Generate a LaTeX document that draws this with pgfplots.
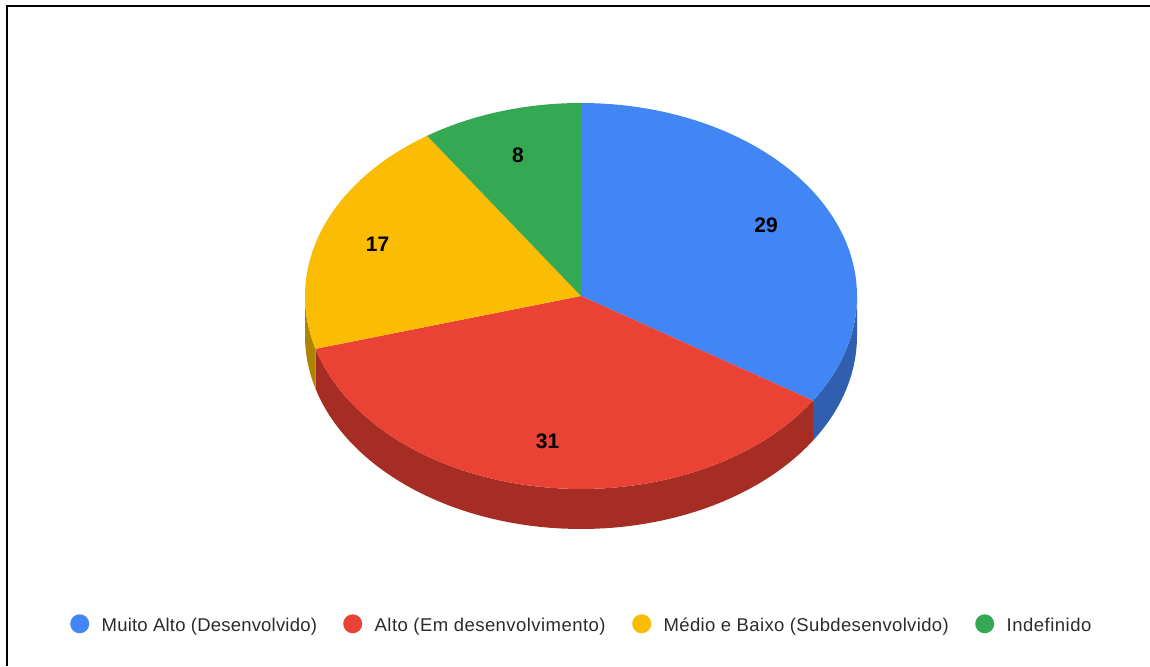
\documentclass[border=0pt]{standalone}
\usepackage{fontspec}
\setmainfont{Liberation Sans}
\usepackage{pgfplots}
\pgfplotsset{compat=1.18}

\definecolor{topblue}{HTML}{4285F4}
\definecolor{topred}{HTML}{EA4335}
\definecolor{topyellow}{HTML}{FBBC04}
\definecolor{topgreen}{HTML}{34A853}
\definecolor{sideblue}{HTML}{2F5FAE}
\definecolor{sidered}{HTML}{A52D23}
\definecolor{sideyellow}{HTML}{B08403}
\definecolor{legendtext}{HTML}{2B2B2B}

% Slice values
\def\vA{29}\def\vB{31}\def\vC{17}\def\vD{8}

% Geometry of the tilted disc, in axis units
\def\cx{581}\def\cy{370}\def\rx{276}\def\ry{193}\def\depth{40}

% Appends an elliptical arc to \ptlist; #1 and #2 are degrees clockwise from
% the top of the disc, #3 is how far below the top face the arc lies
\newcommand{\addarc}[3]{%
  \foreach \i in {0,...,60}{%
    \pgfmathsetmacro\ang{90-(#1+(#2-#1)*\i/60)}%
    \pgfmathsetmacro\px{\cx+\rx*cos(\ang)}%
    \pgfmathsetmacro\py{\cy+\ry*sin(\ang)-#3}%
    \xdef\ptlist{\ptlist (\px,\py)}%
  }}

% Top face of a slice
\newcommand{\topslice}[3]{%
  \xdef\ptlist{(\cx,\cy)}%
  \addarc{#1}{#2}{0}%
  \edef\tmp{\noexpand\addplot[fill=#3,draw=none,forget plot] coordinates {\ptlist};}%
  \tmp}

% Rim below a slice
\newcommand{\sideslice}[3]{%
  \xdef\ptlist{}%
  \addarc{#1}{#2}{0}%
  \addarc{#2}{#1}{\depth}%
  \edef\tmp{\noexpand\addplot[fill=#3,draw=none,forget plot] coordinates {\ptlist};}%
  \tmp}

% Legend text with a set width and tracking
\newcommand{\entry}[3]{\makebox[#1pt][l]{\addfontfeature{LetterSpace=#2}#3}}

\begin{document}
\begin{tikzpicture}
\pgfmathsetmacro\total{\vA+\vB+\vC+\vD}
\pgfmathsetmacro\aA{\vA/\total*360}
\pgfmathsetmacro\aB{(\vA+\vB)/\total*360}
\pgfmathsetmacro\aC{(\vA+\vB+\vC)/\total*360}
\begin{axis}[
  scale only axis, width=1150pt, height=666pt,
  xmin=0, xmax=1150, ymin=0, ymax=666,
  axis line style={draw=none}, ticks=none,
  legend columns=4,
  legend cell align=left,
  legend image code/.code={\fill[#1,draw=none] (0pt,0.36em-2pt) circle (9.5pt);},
  legend style={
    at={(axis cs:70.2,42.2)}, anchor=west, draw=none, fill=none,
    inner sep=0pt, outer sep=0pt,
    font=\fontsize{18.5}{20}\selectfont\color{legendtext},
    nodes={inner sep=0pt},
    /tikz/every odd column/.style={column sep=12.5pt},
    /tikz/every even column/.style={column sep=25.5pt},
  },
]
% Outer frame along the left and top
\addplot[black,line width=2.2pt,forget plot] coordinates {(7,0) (7,660.3) (1150,660.3)};

% Visible rim
\sideslice{90}{\aA}{sideblue}
\sideslice{\aA}{\aB}{sidered}
\sideslice{\aB}{270}{sideyellow}

% Top face
\topslice{0}{\aA}{topblue}
\topslice{\aA}{\aB}{topred}
\topslice{\aB}{\aC}{topyellow}
\topslice{\aC}{360}{topgreen}

% Value labels
\node[font=\fontsize{21}{21}\selectfont\bfseries] at (axis cs:766,441) {\vA};
\node[font=\fontsize{21}{21}\selectfont\bfseries] at (axis cs:547.5,225) {\vB};
\node[font=\fontsize{21}{21}\selectfont\bfseries] at (axis cs:377.5,422) {\vC};
\node[font=\fontsize{21}{21}\selectfont\bfseries] at (axis cs:518,511) {\vD};

% Legend
\addlegendimage{fill=topblue}
\addlegendentry{\entry{216}{1.1}{Muito Alto (Desenvolvido)}}
\addlegendimage{fill=topred}
\addlegendentry{\entry{232}{2.4}{Alto (Em desenvolvimento)}}
\addlegendimage{fill=topyellow}
\addlegendentry{\entry{286}{1.9}{Médio e Baixo (Subdesenvolvido)}}
\addlegendimage{fill=topgreen}
\addlegendentry{\entry{85}{2.7}{Indefinido}}
\end{axis}
\end{tikzpicture}
\end{document}
